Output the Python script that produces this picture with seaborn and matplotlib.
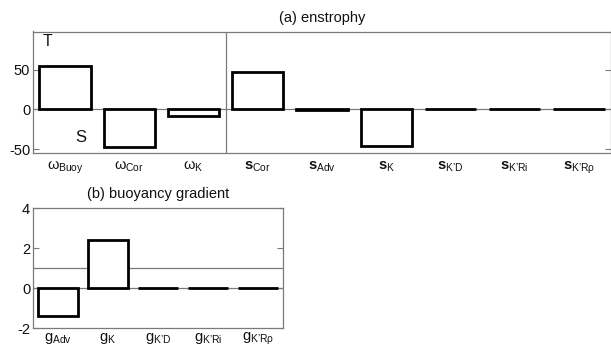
import matplotlib
matplotlib.use("Agg")
import matplotlib.pyplot as plt
import seaborn as sns
import pandas as pd

sns.set_theme(style="white")
plt.rcParams["font.family"] = ["Liberation Sans", "DejaVu Sans"]
plt.rcParams["mathtext.fontset"] = "custom"
plt.rcParams["mathtext.rm"] = "Liberation Sans"
plt.rcParams["mathtext.it"] = "Liberation Sans"
plt.rcParams["mathtext.bf"] = "Liberation Sans:bold"
plt.rcParams["mathtext.sf"] = "Liberation Sans"
plt.rcParams["axes.unicode_minus"] = False

# (a) enstrophy budget terms
ens_labels = [r"$\omega_{\rm Buoy}$", r"$\omega_{\rm Cor}$", r"$\omega_{\rm K}$",
              r"$\mathbf{s}_{\rm Cor}$", r"$\mathbf{s}_{\rm Adv}$", r"$\mathbf{s}_{\rm K}$",
              r"$\mathbf{s}_{\rm K’D}$", r"$\mathbf{s}_{\rm K’Ri}$", r"$\mathbf{s}_{\rm K’R\rho}$"]
ens_values = [55, -47.5, -9, 47, -1.2, -46, 0, 0, 0]
ens_ticks = [-50, 0, 50]

# (b) buoyancy gradient budget terms
grad_labels = [r"$\mathrm{g}_{\rm Adv}$", r"$\mathrm{g}_{\rm K}$", r"$\mathrm{g}_{\rm K’D}$",
               r"$\mathrm{g}_{\rm K’Ri}$", r"$\mathrm{g}_{\rm K’R\rho}$"]
grad_values = [-1.4, 2.4, 0, 0, 0]
grad_ticks = [-2, 0, 2, 4]
grad_ref = 1.0

W, H = 611, 347
fig = plt.figure(figsize=(W / 100, H / 100), dpi=100)

def px_axes(l, t, r, b):
    return fig.add_axes([l / W, 1 - b / H, (r - l) / W, (b - t) / H])

ax1 = px_axes(33, 31.5, 611, 153)
ax2 = px_axes(33, 208, 283, 328)

spine_gray = "#7a7a7a"
text_col = "#111111"
fs = 10.5

def style(ax, labels, values, ticks, ylim, title, xpad):
    df = pd.DataFrame({"term": labels, "value": values})
    ax.axhline(0, color=spine_gray, lw=0.9, zorder=0)
    sns.barplot(data=df, x="term", y="value", ax=ax, color="white",
                edgecolor="black", linewidth=2.0, width=0.8, saturation=1,
                errorbar=None, zorder=2)
    ax.set_xlim(-0.5, len(labels) - 0.5)
    ax.set_ylim(*ylim)
    ax.set_yticks(ticks)
    ax.set_xlabel("")
    ax.set_ylabel("")
    ax.set_title(title, fontsize=fs, pad=7, color=text_col)
    for s in ax.spines.values():
        s.set_color(spine_gray)
        s.set_linewidth(0.9)
        s.set_visible(True)
    ax.tick_params(axis="y", direction="in", left=True, right=True, length=4,
                   width=0.8, color=spine_gray, labelsize=fs, labelcolor=text_col, pad=2)
    ax.tick_params(axis="x", bottom=False, labelsize=fs, labelcolor=text_col, pad=xpad)

style(ax1, ens_labels, ens_values, ens_ticks, (-55, 98), "(a) enstrophy", -1.5)
ax1.axvline(2.5, color=spine_gray, lw=0.9, zorder=1)
ax1.text(-0.28, 86, "T", fontsize=fs + 1, ha="center", va="center", color=text_col)
ax1.text(0.24, -36, "S", fontsize=fs + 1.5, ha="center", va="center", color=text_col)

style(ax2, grad_labels, grad_values, grad_ticks, (-2, 4), "(b) buoyancy gradient", -4)
ax2.axhline(grad_ref, color=spine_gray, lw=0.9, zorder=1)

fig.savefig("out.png", dpi=100)
